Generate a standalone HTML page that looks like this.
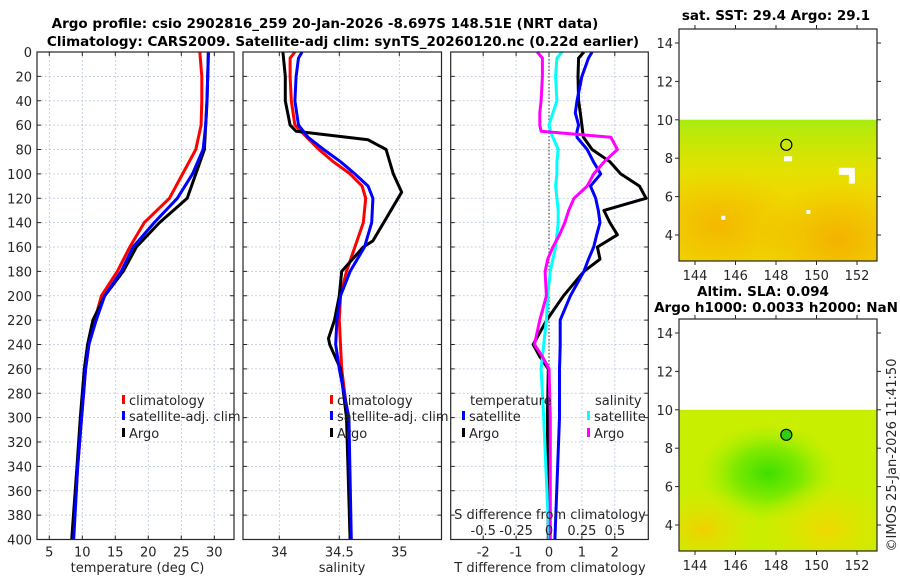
<!DOCTYPE html>
<html><head><meta charset="utf-8"><title>Argo profile</title>
<style>
body{margin:0;background:#fff;}
svg{display:block;font-family:"DejaVu Sans","Liberation Sans",sans-serif;}
.t{font-size:13px;fill:#262626;}
.b{font-size:13.5px;font-weight:bold;fill:#000;}
</style></head>
<body>
<svg id="fig" width="900" height="580" viewBox="0 0 900 580">
<defs>
<radialGradient id="m1or1" cx="0.2" cy="0.75" r="0.4"><stop offset="0" stop-color="#f5b000" stop-opacity="0.8"/><stop offset="1" stop-color="#f5b000" stop-opacity="0"/></radialGradient>
<radialGradient id="m1or2" cx="0.8" cy="0.85" r="0.4"><stop offset="0" stop-color="#f5a800" stop-opacity="0.8"/><stop offset="1" stop-color="#f5a800" stop-opacity="0"/></radialGradient>
<linearGradient id="m1top" x1="0" y1="0" x2="0" y2="1"><stop offset="0" stop-color="#a8ec10"/><stop offset="0.35" stop-color="#d8e800" stop-opacity="0.6"/><stop offset="0.6" stop-color="#f0d800" stop-opacity="0"/></linearGradient>
<radialGradient id="m2g" cx="0.45" cy="0.45" r="0.35"><stop offset="0" stop-color="#3ee000"/><stop offset="0.5" stop-color="#80ea00"/><stop offset="1" stop-color="#a8f000" stop-opacity="0"/></radialGradient>
<radialGradient id="m2y1" cx="0.12" cy="0.85" r="0.3"><stop offset="0" stop-color="#f0d000"/><stop offset="1" stop-color="#e0e800" stop-opacity="0"/></radialGradient>
<radialGradient id="m2y2" cx="0.75" cy="0.85" r="0.35"><stop offset="0" stop-color="#f0d800"/><stop offset="1" stop-color="#e0e800" stop-opacity="0"/></radialGradient>
</defs>
<g id="root"></g>
</svg>
<script>
// ---------- data ----------
const depthT = [0,20,40,60,80,100,120,140,160,180,200,220,240,260,300,340,400];
const tempClim = [27.8,28.1,28.1,28.0,27.2,25.2,23.2,19.4,17.2,15.3,12.9,11.9,11.0,10.5,9.9,9.3,8.6];
const tempSat  = [29.1,29.0,28.9,28.7,28.3,26.7,24.4,20.9,17.7,15.9,13.4,12.1,11.0,10.5,9.9,9.3,8.7];
const tempArgo = [29.1,29.0,28.9,28.7,28.5,27.2,25.9,21.7,18.2,16.2,13.4,11.6,10.8,10.3,9.7,9.2,8.4];

const depthSC = [0,5,20,40,60,70,80,90,100,110,120,140,160,180,200,220,240,260,300,400];
const salClim = [34.13,34.09,34.09,34.10,34.13,34.23,34.33,34.45,34.59,34.69,34.72,34.70,34.63,34.56,34.51,34.50,34.51,34.52,34.57,34.59];
const salSat  = [34.19,34.16,34.14,34.13,34.16,34.24,34.37,34.51,34.63,34.74,34.78,34.77,34.71,34.59,34.51,34.48,34.47,34.50,34.58,34.60];
const depthSA = [0,20,40,50,60,65,72,80,100,115,125,140,155,160,180,200,220,235,240,260,300,400];
const salArgo = [34.03,34.05,34.05,34.07,34.09,34.14,34.74,34.89,34.95,35.02,34.96,34.87,34.78,34.70,34.52,34.50,34.46,34.41,34.42,34.51,34.56,34.59];

const depthD = [0,5,20,40,50,60,65,70,80,90,100,110,120,130,140,150,160,170,180,200,220,240,250,260,300,400];
const dTsat  = [1.31,1.2,1.0,0.85,0.80,0.90,0.85,0.85,1.16,1.35,1.57,1.26,1.42,1.50,1.55,1.45,1.36,1.20,1.06,0.65,0.34,0.34,0.33,0.32,0.32,0.18];
const dTargo = [1.06,0.9,0.88,0.90,0.95,1.00,1.02,1.05,1.31,1.85,2.18,2.75,2.95,1.67,1.85,2.08,1.47,1.55,1.06,0.44,-0.07,-0.48,-0.28,-0.02,-0.05,-0.02];
const dSsat  = [0.10,0.06,0.05,0.06,0.03,0.00,0.01,0.03,0.07,0.06,0.06,0.05,0.06,0.07,0.07,0.06,0.05,0.03,0.01,-0.01,-0.02,-0.04,-0.05,-0.06,-0.04,0.00];
const dSargo = [-0.09,-0.05,-0.05,-0.06,-0.07,-0.07,-0.06,0.47,0.52,0.42,0.34,0.29,0.19,0.15,0.12,0.08,0.03,-0.01,-0.03,-0.02,-0.07,-0.11,-0.05,0.00,0.01,0.01];

const depthTicks = [0,20,40,60,80,100,120,140,160,180,200,220,240,260,280,300,320,340,360,380,400];
const tempTicks = [5,10,15,20,25,30];
const salTicks = [34,34.5,35];
const salTickLabels = ["34","34.5","35"];
const dTTicks = [-2,-1,0,1,2];
const dSTicks = [-0.5,-0.25,0,0.25,0.5];
const dSTickLabels = ["-0.5","-0.25","0","0.25","0.5"];
const lonTicks = [144,146,148,150,152];
const latTicks = [4,6,8,10,12,14];
const argoLon = 148.51, argoLat = 8.697;

// ---------- helpers ----------
const NS="http://www.w3.org/2000/svg";
const root=document.getElementById('root');
function mk(tag,attrs,parent){const e=document.createElementNS(NS,tag);for(const k in attrs)e.setAttribute(k,attrs[k]);(parent||root).appendChild(e);return e;}
function txt(x,y,s,cls,anchor,parent){const e=mk('text',{x:x,y:y,'class':cls,'text-anchor':anchor||'middle'},parent);e.textContent=s;return e;}

const PT=52, PB=539.5;
const yD = d => PT + d/400*(PB-PT);
function axisX(v0,x0,v1,x1){return v=>x0+(v-v0)/(v1-v0)*(x1-x0);}

function panel(name,L,R,xs,xticks,xlabels,showYLabels){
  const g=mk('g',{},root);
  
  
  // grid
  depthTicks.forEach(d=>{ if(d>0&&d<400){const l=mk('line',{x1:L,x2:R,y1:yD(d),y2:yD(d),stroke:'#b8c4e0','stroke-width':0.8,'stroke-dasharray':'2,2'},g);}});
  xticks.forEach(v=>{const l=mk('line',{x1:xs(v),x2:xs(v),y1:PT,y2:PB,stroke:'#b8c4e0','stroke-width':0.8,'stroke-dasharray':'2,2'},g);});
  // ticks
  depthTicks.forEach(d=>{mk('line',{x1:L,x2:L+4,y1:yD(d),y2:yD(d),stroke:'#262626'},g);mk('line',{x1:R-4,x2:R,y1:yD(d),y2:yD(d),stroke:'#262626'},g);
    if(showYLabels){const t=txt(L-5,yD(d)+5,String(d),'t','end',g);}});
  xticks.forEach((v,i)=>{mk('line',{x1:xs(v),x2:xs(v),y1:PT,y2:PT+4,stroke:'#262626'},g);mk('line',{x1:xs(v),x2:xs(v),y1:PB-4,y2:PB,stroke:'#262626'},g);
    if(xlabels){const t=txt(xs(v),PB+17,xlabels[i],'t','middle',g);}});
  return g;
}
function frame(g,L,R){mk('rect',{x:L,y:PT,width:R-L,height:PB-PT,fill:'none',stroke:'#262626','stroke-width':1.2},g);}
function line(g,xs,vals,depths,color,name,w){
  const pts=vals.map((v,i)=>xs(v).toFixed(1)+','+yD(depths[i]).toFixed(1)).join(' ');
  const p=mk('polyline',{points:pts,fill:'none',stroke:color,'stroke-width':w||3,'stroke-linejoin':'round'},g);
  
  
}
function legendItem(g,x,y,color,label,name){
  const it=mk('g',{},g);
  
  
  mk('rect',{x:x,y:y-10,width:3,height:9,fill:color},it);
  txt(x+7,y,label,'t','start',it);
}

// ---------- titles ----------
let t1=txt(325,28,'Argo profile: csio 2902816_259 20-Jan-2026 -8.697S 148.51E (NRT data)','b');


let t2=txt(343,46,'Climatology: CARS2009. Satellite-adj clim: synTS_20260120.nc (0.22d earlier)','b');



// ---------- panel 1 temperature ----------
{const L=37,R=234; const xs=axisX(5,49.3,30,214.3);
 const g=panel('temperature-panel',L,R,xs,tempTicks,tempTicks.map(String),true);
 line(g,xs,tempClim,depthT,'#ff0000','temp-climatology-line');
 line(g,xs,tempArgo,depthT,'#000000','temp-argo-line');
 line(g,xs,tempSat,depthT,'#0000ff','temp-satellite-line');
 frame(g,L,R);
 const x=txt((L+R)/2+2,572,'temperature (deg C)','t');
 const lg=mk('g',{},g);
 legendItem(lg,122,405,'#ff0000','climatology','legend-climatology');
 legendItem(lg,122,421,'#0000ff','satellite-adj. clim','legend-satellite');
 legendItem(lg,122,438,'#000000','Argo','legend-argo');
}
// ---------- panel 2 salinity ----------
{const L=243,R=441.5; const xs=axisX(34,279.3,35,399.3);
 const g=panel('salinity-panel',L,R,xs,salTicks,salTickLabels,false);
 line(g,xs,salClim,depthSC,'#ff0000','sal-climatology-line');
 line(g,xs,salArgo,depthSA,'#000000','sal-argo-line');
 line(g,xs,salSat,depthSC,'#0000ff','sal-satellite-line');
 frame(g,L,R);
 const x=txt(342,572,'salinity','t');
 const lg=mk('g',{},g);
 legendItem(lg,330,405,'#ff0000','climatology','legend-climatology');
 legendItem(lg,330,421,'#0000ff','satellite-adj. clim','legend-satellite');
 legendItem(lg,330,438,'#000000','Argo','legend-argo');
}
// ---------- panel 3 differences ----------
{const L=450.7,R=648.3; const xs=axisX(0,549,1,581.9); const xsS=v=>xs(v*4);
 const g=panel('difference-panel',L,R,xs,dTTicks,dTTicks.map(String),false);
 mk('line',{x1:xs(0),x2:xs(0),y1:PT,y2:PB,stroke:'#333','stroke-width':1,'stroke-dasharray':'1.5,2'},g);
 line(g,xs,dTargo,depthD,'#000000','dT-argo-line');
 line(g,xs,dTsat,depthD,'#0000ff','dT-satellite-line');
 line(g,xsS,dSsat,depthD,'#00ffff','dS-satellite-line');
 line(g,xsS,dSargo,depthD,'#ff00ff','dS-argo-line');
 frame(g,L,R);
 const x=txt(550,572,'T difference from climatology','t');
 const s=txt(550,519,'S difference from climatology','t');
 dSTicks.forEach((v,i)=>{const t=txt(xsS(v),535,dSTickLabels[i],'t','middle',g);});
 const lg=mk('g',{},g);
 txt(470,405,'temperature','t','start',lg);
 txt(595,405,'salinity','t','start',lg);
 legendItem(lg,462,421,'#0000ff','satellite','legend-T-satellite');
 legendItem(lg,462,438,'#000000','Argo','legend-T-argo');
 legendItem(lg,587,421,'#00ffff','satellite','legend-S-satellite');
 legendItem(lg,587,438,'#ff00ff','Argo','legend-S-argo');
}
// ---------- maps ----------
function map(name,top,kind,title1,title2){
  const L=679,R=877,T=top,B=top+232;
  const lx=axisX(144,695,152,857), ly=axisX(14,T+14,4,T+206);
  const g=mk('g',{},root);
  
  
  const y10=ly(10);
  if(kind===1){
    mk('rect',{x:L,y:y10,width:R-L,height:B-y10,fill:'#efd800'},g);
    mk('rect',{x:L,y:y10,width:R-L,height:B-y10,fill:'url(#m1or1)'},g);
    mk('rect',{x:L,y:y10,width:R-L,height:B-y10,fill:'url(#m1or2)'},g);
    mk('rect',{x:L,y:y10,width:R-L,height:B-y10,fill:'url(#m1top)'},g);
    mk('rect',{x:lx(148.4),y:ly(8.1),width:8,height:5,fill:'#fff'},g);
    mk('rect',{x:lx(151.1),y:ly(7.5),width:16,height:7,fill:'#fff'},g);
    mk('rect',{x:lx(151.6),y:ly(7.2),width:6,height:10,fill:'#fff'},g);
    mk('rect',{x:lx(145.3),y:ly(5.0),width:4,height:4,fill:'#fff'},g);
    mk('rect',{x:lx(149.5),y:ly(5.3),width:4,height:4,fill:'#fff'},g);
    mk('circle',{cx:lx(argoLon),cy:ly(argoLat),r:5.5,fill:'none',stroke:'#000','stroke-width':1.2},g);
  } else {
    mk('rect',{x:L,y:y10,width:R-L,height:B-y10,fill:'#c8ee00'},g);
    mk('rect',{x:L,y:y10,width:R-L,height:B-y10,fill:'url(#m2g)'},g);
    mk('rect',{x:L,y:y10,width:R-L,height:B-y10,fill:'url(#m2y1)'},g);
    mk('rect',{x:L,y:y10,width:R-L,height:B-y10,fill:'url(#m2y2)'},g);
    mk('circle',{cx:lx(argoLon),cy:ly(argoLat),r:5.5,fill:'#30d010',stroke:'#000','stroke-width':1.2},g);
  }
  mk('rect',{x:L,y:T,width:R-L,height:B-T,fill:'none',stroke:'#262626','stroke-width':1.2},g);
  lonTicks.forEach(v=>{mk('line',{x1:lx(v),x2:lx(v),y1:B,y2:B+4,stroke:'#262626'},g);mk('line',{x1:lx(v),x2:lx(v),y1:T,y2:T-4,stroke:'#262626'},g);
    const t=txt(lx(v),B+19,String(v),'t','middle',g);});
  latTicks.forEach(v=>{mk('line',{x1:L-4,x2:L,y1:ly(v),y2:ly(v),stroke:'#262626'},g);mk('line',{x1:R,x2:R+4,y1:ly(v),y2:ly(v),stroke:'#262626'},g);
    const t=txt(L-6,ly(v)+5,String(v),'t','end',g);});
  const a=txt(title2?763:776,title2?T-23:T-9,title1,'b');
  if(title2){const b=txt(776,T-7,title2,'b');}
}
map('sst-map',29,1,'sat. SST: 29.4 Argo: 29.1');
map('sla-map',319,2,'Altim. SLA: 0.094','Argo h1000: 0.0033 h2000: NaN');

const cr=txt(0,0,'©IMOS 25-Jan-2026 11:41:50','t','middle');
cr.setAttribute('transform','translate(896,455) rotate(-90)');


</script>
</body></html>
